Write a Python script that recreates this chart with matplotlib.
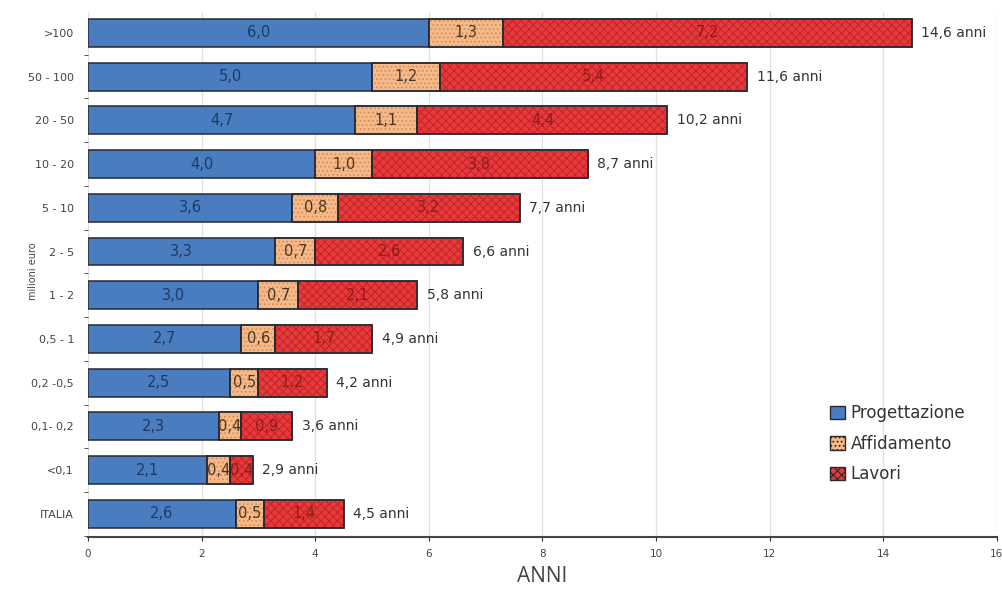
import matplotlib
matplotlib.use("Agg")
import matplotlib.pyplot as plt
import numpy as np
from matplotlib.patches import Patch

plt.rcParams["hatch.linewidth"] = 0.8

categories = [">100", "50 - 100", "20 - 50", "10 - 20", "5 - 10", "2 - 5", "1 - 2",
              "0,5 - 1", "0,2 -0,5", "0,1- 0,2", "<0,1", "ITALIA"]
progettazione = [6.0, 5.0, 4.7, 4.0, 3.6, 3.3, 3.0, 2.7, 2.5, 2.3, 2.1, 2.6]
affidamento = [1.3, 1.2, 1.1, 1.0, 0.8, 0.7, 0.7, 0.6, 0.5, 0.4, 0.4, 0.5]
lavori = [7.2, 5.4, 4.4, 3.8, 3.2, 2.6, 2.1, 1.7, 1.2, 0.9, 0.4, 1.4]
totali = [14.6, 11.6, 10.2, 8.7, 7.7, 6.6, 5.8, 4.9, 4.2, 3.6, 2.9, 4.5]
series_names = ["Progettazione", "Affidamento", "Lavori"]

fig = plt.figure(figsize=(10.02, 5.96), dpi=100)
ax = fig.add_axes([0.0878, 0.099, 0.907, 0.881])

n = len(categories)
y = np.arange(n)[::-1]  # top category first
h = 0.64

fills = ["#4a7dc0", "#f6b987", "#e8393b"]
hatches = [None, "....", "xxxx"]
hcolors = [None, "#cf9160", "#c4262a"]
tcolors = ["#1e3a64", "#4a3620", "#8c1d1d"]
data = [progettazione, affidamento, lavori]

left = np.zeros(n)
for k, vals in enumerate(data):
    vals = np.array(vals)
    ax.barh(y, vals, left=left, height=h, color=fills[k], edgecolor="#262a33",
            linewidth=1.1, zorder=3)
    if hatches[k]:
        ax.barh(y, vals, left=left, height=h, color="none", edgecolor=hcolors[k],
                hatch=hatches[k], linewidth=0, zorder=4)
        ax.barh(y, vals, left=left, height=h, color="none", edgecolor="#262a33",
                linewidth=1.1, zorder=4.5)
    for yi, l, v in zip(y, left, vals):
        ax.text(l + v / 2, yi, f"{v:.1f}".replace(".", ","), ha="center", va="center",
                fontsize=10.5, color=tcolors[k], zorder=5)
    left = left + vals

for yi, end, t in zip(y, left, totali):
    ax.text(end + 0.17, yi, f"{t:.1f}".replace(".", ",") + " anni", ha="left",
            va="center", fontsize=10, color="#333333")

ax.set_xlim(0, 16)
ax.set_ylim(-0.53, n - 1 + 0.48)
ax.set_xticks(np.arange(0, 17, 2))
ax.set_xticklabels([str(v) for v in range(0, 17, 2)], fontsize=7.5, color="#444444")
ax.set_yticks(y)
ax.set_yticklabels(categories, fontsize=8, color="#444444")
ax.set_yticks(np.arange(-0.5, n - 0.5, 1), minor=True)
ax.tick_params(axis="y", which="major", length=0, pad=10)
ax.tick_params(axis="y", which="minor", length=3, color="#333333")
ax.tick_params(axis="x", length=3, color="#333333", pad=6)
ax.grid(axis="x", color="#e2e2e2", linewidth=1, zorder=0)
for s in ["top", "right", "left"]:
    ax.spines[s].set_visible(False)
ax.spines["bottom"].set_color("#444444")
ax.spines["bottom"].set_linewidth(1.5)

ax.set_xlabel("ANNI", fontsize=15, color="#444444", family="Open Sans", labelpad=5)
fig.text(0.033, 0.545, "milioni euro", rotation=90, fontsize=7, color="#444444",
         ha="center", va="center")

handles = [Patch(facecolor=fills[k], edgecolor="#262a33", hatch=hatches[k],
                 label=series_names[k]) for k in range(3)]
leg = ax.legend(handles=handles, loc="lower right", bbox_to_anchor=(0.978, 0.08),
                frameon=False, fontsize=12, handlelength=0.9, handleheight=0.9,
                handletextpad=0.35, labelspacing=0.75, borderpad=0.2)
for t in leg.get_texts():
    t.set_color("#333333")

fig.savefig("out.png", dpi=100)
